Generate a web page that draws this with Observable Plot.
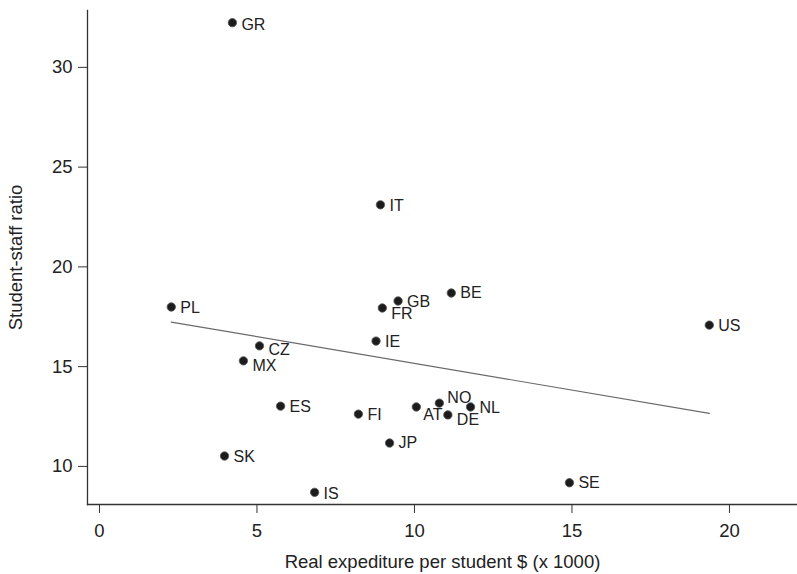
<!DOCTYPE html>
<html><head><meta charset="utf-8">
<script src="https://cdn.jsdelivr.net/npm/d3@7"></script>
<script src="https://cdn.jsdelivr.net/npm/@observablehq/plot@0.6"></script>
<style>body{margin:0;background:#fff}</style>
</head><body><div id="chart"></div>
<script>
const countries   = ["GR","IT","BE","GB","FR","PL","US","IE","CZ","MX","ES","FI","AT","NO","DE","NL","JP","SK","SE","IS"];
const expenditure = [4.22,8.92,11.17,9.48,8.98,2.28,19.36,8.78,5.08,4.57,5.75,8.22,10.06,10.79,11.06,11.78,9.21,3.97,14.92,6.83];
const ratio       = [32.24,23.11,18.69,18.29,17.94,17.99,17.08,16.28,16.04,15.29,13.02,12.62,12.98,13.17,12.58,12.98,11.17,10.52,9.18,8.70];
// label nudges (pixels) as in the original figure
const labelDx = [9,9,9,9,9,9,9,9,9,9,9,9,7,8,9,9,9,9,9,9];
const labelDy = [2,1,0,1,6,1,1,1,4,5,1,1,8,-5,5,1,0,1,0,2];
const xTicks = [0,5,10,15,20];
const yTicks = [10,15,20,25,30];

const data = countries.map((c,i)=>({country:c, x:expenditure[i], y:ratio[i], dx:labelDx[i], dy:labelDy[i]}));
const groups = d3.groups(data, d => d.dx + "," + d.dy);

const font = "'Liberation Sans', Arial, Helvetica, sans-serif";
const ink = "#222";

const chart = Plot.plot({
  width: 797,
  height: 574,
  marginLeft: 87,
  marginRight: 0,
  marginTop: 10,
  marginBottom: 70,
  style: {fontFamily: font, fontSize: "18.5px", color: ink, background: "#fff"},
  x: {domain: [-0.38, 22.16]},
  y: {domain: [8.09, 32.85]},
  marks: [
    Plot.frame({anchor: "left", stroke: "#333", strokeOpacity: 1, strokeWidth: 1.3}),
    Plot.frame({anchor: "bottom", stroke: "#333", strokeOpacity: 1, strokeWidth: 1.3}),
    Plot.axisX({ticks: xTicks, tickSize: 9, tickPadding: 10, tickFormat: d3.format("d"),
      label: "Real expediture per student $ (x 1000)", labelAnchor: "center", labelArrow: "none", labelOffset: 63,
      stroke: "#333", fill: ink, fontSize: 18.5}),
    Plot.axisY({ticks: yTicks, tickSize: 9, tickPadding: 6, tickFormat: d3.format("d"),
      label: "Student-staff ratio", labelAnchor: "center", labelArrow: "none", labelOffset: 79,
      stroke: "#333", fill: ink, fontSize: 18.5}),
    Plot.linearRegressionY(data, {x: "x", y: "y", ci: 0, stroke: "#6a6a6a", strokeWidth: 1.2}),
    Plot.dot(data, {x: "x", y: "y", r: 4.2, fill: "#1c1c1c", stroke: "#555", strokeWidth: 0.8}),
    ...groups.map(([k, g]) => Plot.text(g, {x: "x", y: "y", text: "country", textAnchor: "start",
      dx: g[0].dx, dy: g[0].dy, fill: ink, fontSize: 16}))
  ]
});
document.getElementById("chart").appendChild(chart);
</script>
</body></html>
